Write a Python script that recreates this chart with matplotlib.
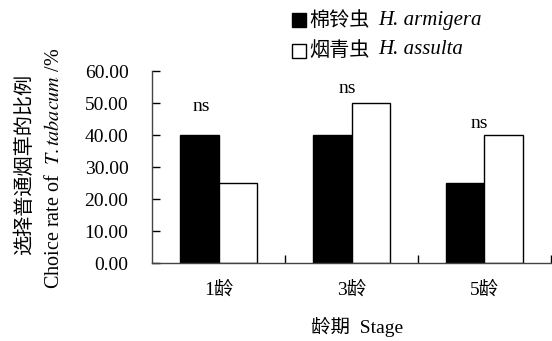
import numpy as np
import matplotlib
matplotlib.use('Agg')
import matplotlib.pyplot as plt
from matplotlib.patches import Rectangle

# data
stages = ['1龄', '3龄', '5龄']
armigera = [40.0, 40.0, 25.0]
assulta = [25.0, 50.0, 40.0]
sig_labels = ['ns', 'ns', 'ns']
sig_y = [49.0, 54.5, 43.5]
sig_dx = [-0.13, -0.035, -0.04]
yticks = [0, 10, 20, 30, 40, 50, 60]

serif = 'Liberation Serif'
cjk = 'Noto Sans CJK SC'
mixed = [serif, cjk]
plt.rcParams['mathtext.fontset'] = 'stix'

W, H = 552, 341
fig = plt.figure(figsize=(W / 100, H / 100), dpi=100)
ax = fig.add_axes([152 / W, 1 - 263 / H, 399 / W, 192 / H])

x = np.arange(len(stages))
bw = 0.286
ax.bar(x - bw / 2, armigera, bw, color='black', edgecolor='black', linewidth=1)
ax.bar(x + bw / 2, assulta, bw, color='white', edgecolor='black', linewidth=1)

for i in range(len(stages)):
    ax.text(x[i] + sig_dx[i], sig_y[i], sig_labels[i], ha='center', va='center',
            family=serif, fontsize=14)

ax.set_xlim(-0.5, 2.5)
ax.set_ylim(0, 60)
ax.set_yticks(yticks)
ax.set_yticklabels(['%.2f' % v for v in yticks], family=serif, fontsize=14)
ax.set_xticks(x)
ax.set_xticklabels(stages, family=mixed, fontsize=14)
ax.set_xticks(list(x[1:] - 0.5) + [2.5], minor=True)
ax.tick_params(axis='x', which='major', length=0, pad=13)
ax.tick_params(axis='x', which='minor', direction='in', length=6, width=1)
ax.tick_params(axis='y', direction='in', length=6, width=1, pad=17)
for s in ['top', 'right']:
    ax.spines[s].set_visible(False)
for s in ['left', 'bottom']:
    ax.spines[s].set_linewidth(1)
    ax.spines[s].set_color('#444444')

# axis titles
fig.text(357 / W, 1 - 327 / H, '龄期  Stage', family=mixed, fontsize=14,
         ha='center', va='center')
fig.text(25 / W, 1 - 164 / H, '选择普通烟草的比例', family=cjk, fontsize=14.5,
         rotation=90, ha='center', va='center')
fig.text(55 / W, 1 - 168 / H, r'Choice rate of  $\mathit{T.tabacum}$ /%', family=serif,
         fontsize=14.5, rotation=90, ha='center', va='center')

# legend
fig.patches.append(Rectangle((292 / W, 1 - 27 / H), 14 / W, 14 / H, transform=fig.transFigure,
                             facecolor='black', edgecolor='black', linewidth=1))
fig.patches.append(Rectangle((292 / W, 1 - 58 / H), 14 / W, 14 / H, transform=fig.transFigure,
                             facecolor='white', edgecolor='black', linewidth=1))
fig.text(309 / W, 1 - 20 / H, '棉铃虫', family=cjk, fontsize=14.5, va='center')
fig.text(378 / W, 1 - 20 / H, 'H. armigera', family=serif, style='italic', fontsize=15, va='center')
fig.text(309 / W, 1 - 50 / H, '烟青虫', family=cjk, fontsize=14.5, va='center')
fig.text(378 / W, 1 - 50 / H, 'H. assulta', family=serif, style='italic', fontsize=15, va='center')

fig.savefig('out.png', dpi=100)
